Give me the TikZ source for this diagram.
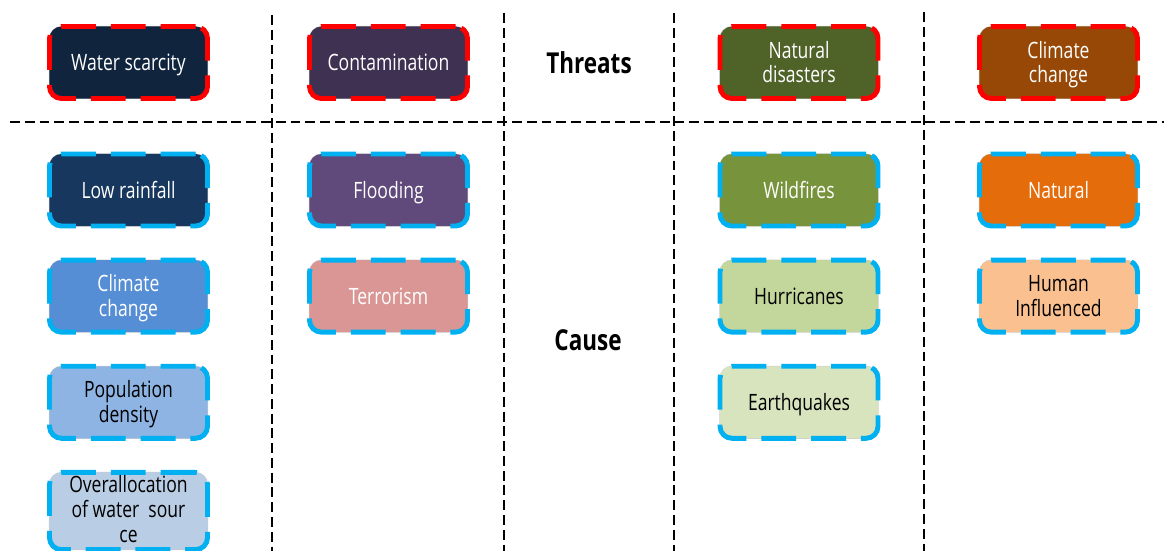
\documentclass[tikz,border=0pt]{standalone}
\usepackage{fontspec}
\setmainfont{Open Sans}[FakeStretch=0.78]
\usepackage{tikz}
\usetikzlibrary{positioning}
% box colours
\definecolor{threatred}{RGB}{255,0,0}
\definecolor{causeblue}{RGB}{0,176,240}
\definecolor{navydark}{RGB}{16,36,62}
\definecolor{purpledark}{RGB}{63,49,81}
\definecolor{olivedark}{RGB}{79,98,40}
\definecolor{rustbrown}{RGB}{151,72,6}
\definecolor{rainnavy}{RGB}{23,55,94}
\definecolor{climblue}{RGB}{85,142,213}
\definecolor{popblue}{RGB}{142,180,227}
\definecolor{allocblue}{RGB}{185,205,229}
\definecolor{floodpurple}{RGB}{96,74,123}
\definecolor{terrorpink}{RGB}{217,150,148}
\definecolor{wildgreen}{RGB}{119,147,60}
\definecolor{hurrgreen}{RGB}{195,214,155}
\definecolor{quakegreen}{RGB}{215,228,189}
\definecolor{natorange}{RGB}{228,108,10}
\definecolor{humanpeach}{RGB}{250,192,144}
% strut for the first line of a box text
\newcommand{\kopf}{\rule{0pt}{15.4pt}}
\tikzset{
    %Define style for boxes
    kasten/.style={
           rectangle,
           rounded corners=0.3cm,
           line width=3.5pt,
           dash pattern=on 24.8pt off 10.6pt,
           minimum width=3.95cm,
           minimum height=1.8cm,
           inner sep=1pt,
           align=center,
           text=white,
           font=\fontsize{16}{17.7}\selectfont,
           % fixed first/last line so the text sits in the middle
           execute at begin node={\kopf},
           execute at end node={\rule[-4pt]{0pt}{4pt}},
           preaction={draw=black!20, line width=0.7pt, solid}},
    threat/.style={kasten, draw=threatred},
    cause/.style={kasten, draw=causeblue},
    % Define style for the dashed dividers
    trenn/.style={black, line width=2.1pt, dash pattern=on 7pt off 3.5pt},
    titel/.style={font=\fontsize{20.5}{24}\selectfont\bfseries}
}

\begin{document}
\begin{tikzpicture}[x=0.025cm, y=-0.025cm, node distance=0.73cm]
  \useasboundingbox (0,0) rectangle (1164,551);
  % dividers
  \draw[trenn] (10,122) -- (1164,122);
  \foreach \x/\t in {272/15, 504/13, 674/13, 924/12}
    \draw[trenn] (\x,\t) -- (\x,551);
  \node[titel] (threats) at (589,63) {Threats};
  \node[titel] (cause) at (588,340) {Cause};
  % threats
  \node[threat, fill=navydark] (water) at (128.5,62.5) {Water scarcity};
  \node[threat, fill=purpledark] (contam) at (388.5,62.5) {Contamination};
  \node[threat, fill=olivedark] (disaster) at (799,62.5) {\kopf Natural\\disasters};
  \node[threat, fill=rustbrown] (climate) at (1058.5,62.5) {\kopf Climate\\change};
  % causes
  \node[cause, fill=rainnavy] (rain) at (128.5,190) {Low rainfall};
  \node[cause, fill=climblue] (climcause) [below=of rain] {\kopf Climate\\change};
  \node[cause, fill=popblue, text=black] (pop) [below=of climcause] {\kopf Population\\density};
  \node[cause, fill=allocblue, text=black,
        execute at end node={\rule[-2pt]{0pt}{2pt}}] (alloc) [below=of pop]
        {\rule{0pt}{13.5pt}Overallocation\\of water~ sour\\ce};
  \node[cause, fill=floodpurple] (flood) at (388.5,190) {Flooding};
  \node[cause, fill=terrorpink] (terror) [below=of flood] {Terrorism};
  \node[cause, fill=wildgreen] (wild) at (799,190) {Wildfires};
  \node[cause, fill=hurrgreen, text=black] (hurr) [below=of wild] {Hurricanes};
  \node[cause, fill=quakegreen, text=black] (quake) [below=of hurr] {Earthquakes};
  \node[cause, fill=natorange] (natural) at (1058.5,190) {Natural};
  \node[cause, fill=humanpeach, text=black] (human) [below=of natural] {\kopf Human\\Influenced};
\end{tikzpicture}
\end{document}
